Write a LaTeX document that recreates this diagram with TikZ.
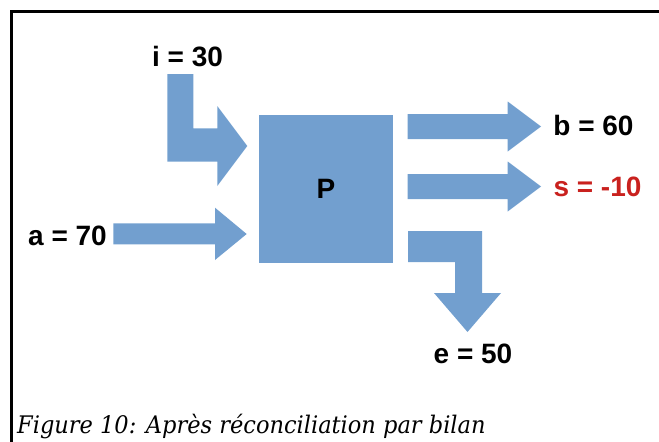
\documentclass[tikz,border=0pt]{standalone}
\usepackage{fontspec}
\newfontfamily\labelfont{Liberation Sans}
\newfontfamily\capfont[FakeStretch=0.93]{DejaVu Serif}
\definecolor{flowblue}{HTML}{729FCF}
\definecolor{lossred}{HTML}{C9211E}
\tikzset{
  flow/.style={fill=flowblue},
  val/.style={font=\labelfont\bfseries\fontsize{28}{28}\selectfont, inner sep=0pt, anchor=base},
  caption/.style={font=\capfont\itshape\fontsize{24.2}{24.2}\selectfont, inner sep=0pt, anchor=base west},
}

\begin{document}
\begin{tikzpicture}[x=1pt,y=-1pt]
        \useasboundingbox (0,0) rectangle (659,442);

        % Frame
        \draw[line width=2.5pt] (11.3,450) -- (11.3,11.3) -- (670,11.3);

        % Process
        \node[flow, minimum width=134pt, minimum height=148pt, inner sep=0pt,
              font=\labelfont\bfseries\fontsize{28}{28}\selectfont] (P) at (326,189) {P};

        % Inflow a
        \fill[flow] (113.3,223.3) -- (215,223.3) -- (215,207.7) -- (246.7,234)
            -- (215,260) -- (215,244.3) -- (113.3,244.3) -- cycle;

        % Inflow i, bent
        \fill[flow] (167.3,74) -- (193.3,74) -- (193.3,128.3) -- (217.3,128.3)
            -- (217.3,106) -- (247.3,146) -- (217.3,186) -- (217.3,161.7)
            -- (167.3,161.7) -- cycle;

        % Outflows b and s
        \foreach \y in {126.5,186.5} {
            \fill[flow] (407.7,\y-12.5) -- (507.7,\y-12.5) -- (507.7,\y-25) -- (541,\y)
                -- (507.7,\y+25) -- (507.7,\y+12.5) -- (407.7,\y+12.5) -- cycle;
        }

        % Outflow e, bent
        \fill[flow] (408,231) -- (482,231) -- (482,293) -- (501,293) -- (467.5,332)
            -- (434,293) -- (455,293) -- (455,262) -- (408,262) -- cycle;

        % Values
        \node[val] (i) at (187.5,66) {i = 30};
        \node[val] (a) at (67.5,245) {a = 70};
        \node[val] (b) at (593.5,135.7) {b = 60};
        \node[val, text=lossred] (s) at (597.5,196.7) {s = -10};
        \node[val] (e) at (473,363.3) {e = 50};

        % Caption
        \node[caption] (cap) at (17,433.5) {Figure 10: Après réconciliation par bilan};
    \end{tikzpicture}
\end{document}
